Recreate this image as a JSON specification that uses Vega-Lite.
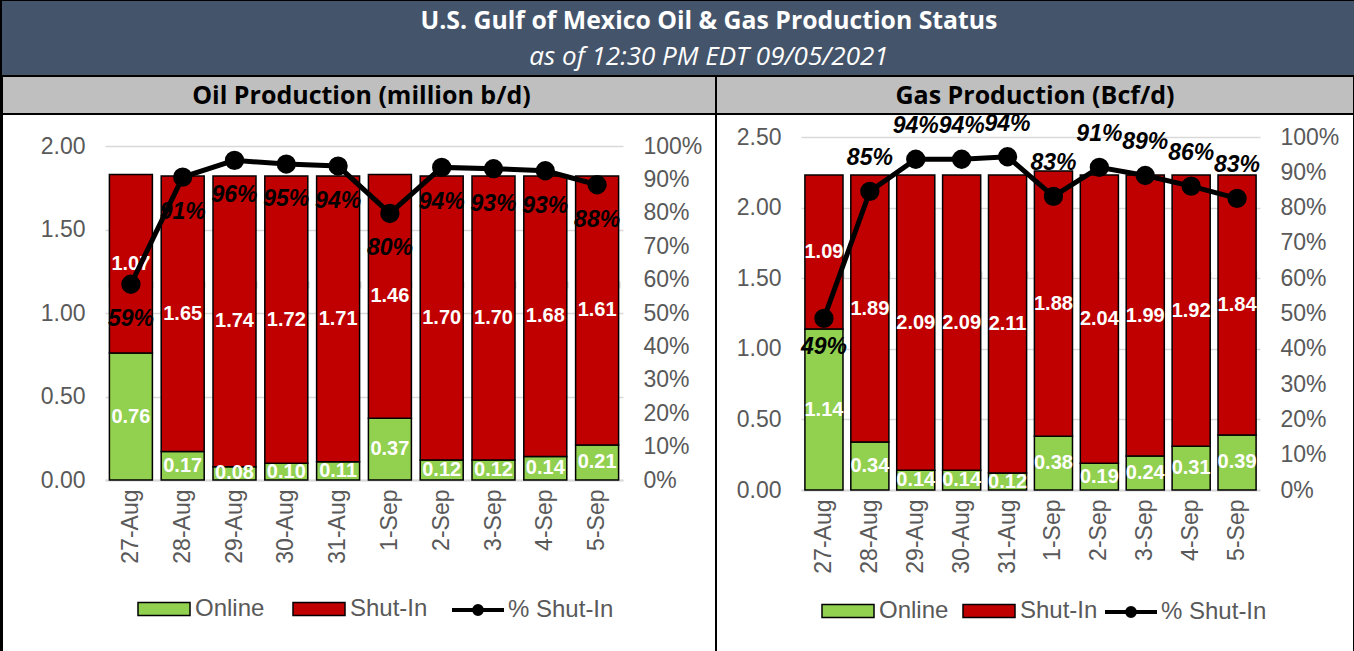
{
  "$schema": "https://vega.github.io/schema/vega-lite/v6.json",
  "padding": {"left": 1, "top": 1, "right": 0, "bottom": 0},
  "background": "#000000",
  "columns": 2,
  "spacing": 0,
  "bounds": "flush",
  "align": "each",
  "config": {"font": "Liberation Sans", "view": {"stroke": null}},
  "resolve": {"scale": {"x": "independent", "y": "independent", "color": "independent", "stroke": "independent"}, "legend": {"color": "independent", "stroke": "independent"}},
  "datasets": {
    "head": [{"title": "U.S. Gulf of Mexico Oil & Gas Production Status", "sub": "as of 12:30 PM EDT 09/05/2021", "oil": "Oil Production (million b/d)", "gas": "Gas Production (Bcf/d)"}],
    "oil": [
      {"date": "27-Aug", "Online": 0.76, "Shut-In": 1.07, "pct": 0.586},
      {"date": "28-Aug", "Online": 0.17, "Shut-In": 1.65, "pct": 0.907},
      {"date": "29-Aug", "Online": 0.08, "Shut-In": 1.74, "pct": 0.957},
      {"date": "30-Aug", "Online": 0.10, "Shut-In": 1.72, "pct": 0.946},
      {"date": "31-Aug", "Online": 0.11, "Shut-In": 1.71, "pct": 0.94},
      {"date": "1-Sep", "Online": 0.37, "Shut-In": 1.46, "pct": 0.798},
      {"date": "2-Sep", "Online": 0.12, "Shut-In": 1.70, "pct": 0.936},
      {"date": "3-Sep", "Online": 0.12, "Shut-In": 1.70, "pct": 0.932},
      {"date": "4-Sep", "Online": 0.14, "Shut-In": 1.68, "pct": 0.926},
      {"date": "5-Sep", "Online": 0.21, "Shut-In": 1.61, "pct": 0.884}
    ],
    "gas": [
      {"date": "27-Aug", "Online": 1.14, "Shut-In": 1.09, "pct": 0.486},
      {"date": "28-Aug", "Online": 0.34, "Shut-In": 1.89, "pct": 0.846},
      {"date": "29-Aug", "Online": 0.14, "Shut-In": 2.09, "pct": 0.937},
      {"date": "30-Aug", "Online": 0.14, "Shut-In": 2.09, "pct": 0.937},
      {"date": "31-Aug", "Online": 0.12, "Shut-In": 2.11, "pct": 0.944},
      {"date": "1-Sep", "Online": 0.38, "Shut-In": 1.88, "pct": 0.832},
      {"date": "2-Sep", "Online": 0.19, "Shut-In": 2.04, "pct": 0.914},
      {"date": "3-Sep", "Online": 0.24, "Shut-In": 1.99, "pct": 0.891},
      {"date": "4-Sep", "Online": 0.31, "Shut-In": 1.92, "pct": 0.861},
      {"date": "5-Sep", "Online": 0.39, "Shut-In": 1.84, "pct": 0.826}
    ]
  },
  "concat": [
    {
      "width": 714, "height": 75,
      "view": {"fill": "#44546A", "stroke": null},
      "data": {"values": [{"blank": ""}]},
      "mark": {"type": "text"},
      "encoding": {"text": {"field": "blank"}}
    },
    {
      "width": 638, "height": 75,
      "view": {"fill": "#44546A", "stroke": null},
      "data": {"name": "head"},
      "layer": [
        {"mark": {"type": "text", "font": "Open Sans", "fontWeight": "bold", "fontSize": 24.8, "color": "white", "dx": -326, "dy": -16.5, "baseline": "middle"},
         "encoding": {"text": {"field": "title"}}},
        {"mark": {"type": "text", "font": "Open Sans", "fontStyle": "italic", "fontSize": 26, "color": "white", "dx": -326, "dy": 18.5, "baseline": "middle"},
         "encoding": {"text": {"field": "sub"}}}
      ]
    },
    {"width": 714, "height": 38, "view": {"fill": "#BFBFBF", "stroke": "#000000", "strokeWidth": 2},
     "data": {"name": "head"},
     "mark": {"type": "text", "font": "Open Sans", "fontWeight": "bold", "fontSize": 25, "color": "black", "dx": 2.5, "dy": 1, "baseline": "middle"},
     "encoding": {"text": {"field": "oil"}}},
    {"width": 638, "height": 38, "view": {"fill": "#BFBFBF", "stroke": "#000000", "strokeWidth": 2},
     "data": {"name": "head"},
     "mark": {"type": "text", "font": "Open Sans", "fontWeight": "bold", "fontSize": 25, "color": "black", "dy": 1, "baseline": "middle"},
     "encoding": {"text": {"field": "gas"}}},
    {
      "width": 714, "height": 540,
      "view": {"fill": "white", "stroke": "#000000", "strokeWidth": 2},
      "data": {"name": "oil"},
      "resolve": {"scale": {"y": "independent"}, "axis": {"x": "independent"}},
      "layer": [
        {
          "transform": [{"fold": ["Online", "Shut-In"], "as": ["series", "value"]}],
          "mark": {"type": "bar", "stroke": "#000000", "strokeWidth": 1.5},
          "encoding": {
            "x": {"field": "date", "type": "nominal", "sort": null,
              "scale": {"range": [103, 621], "paddingInner": 0.17, "paddingOuter": 0.085},
              "axis": {"title": null, "labelAngle": -90, "labelFontSize": 23, "labelColor": "#595959", "domainColor": "#D9D9D9", "domainWidth": 2, "ticks": false, "labelPadding": 9, "offset": -174, "grid": false}},
            "y": {"field": "value", "type": "quantitative", "stack": "zero",
              "scale": {"domain": [0, 2], "range": [366, 32], "nice": false, "zero": true},
              "axis": {"orient": "left", "values": [0, 0.5, 1, 1.5, 2], "format": ".2f", "offset": -103, "domain": false, "ticks": false, "labelPadding": 20, "labelFontSize": 23, "labelColor": "#595959", "grid": true, "gridColor": "#D9D9D9", "gridWidth": 1.5, "title": null}},
            "color": {"field": "series", "type": "nominal",
              "scale": {"domain": ["Online", "Shut-In"], "range": ["#92D050", "#C00000"]},
              "legend": {"orient": "none", "legendX": 135, "legendY": 468, "direction": "horizontal", "title": null, "padding": 0,
                "labelFontSize": 24, "labelColor": "#595959", "symbolSize": 2704, "symbolType": "M-1,-0.25H1V0.25H-1Z",
                "symbolStrokeColor": "#000000", "symbolStrokeWidth": 1.5, "symbolOpacity": 1, "labelOffset": 4, "columnPadding": 25}},
            "order": {"field": "series", "sort": "ascending"}
          }
        },
        {
          "transform": [
            {"fold": ["Online", "Shut-In"], "as": ["series", "value"]},
            {"stack": "value", "groupby": ["date"], "sort": [{"field": "series", "order": "ascending"}], "as": ["v0", "v1"]},
            {"fold": ["v0", "v1"], "as": ["edge", "pos"]}
          ],
          "mark": {"type": "text", "color": "white", "fontWeight": "bold", "fontSize": 20, "baseline": "middle"},
          "encoding": {
            "x": {"field": "date", "type": "nominal", "sort": null,
              "scale": {"range": [103, 621], "paddingInner": 0.17, "paddingOuter": 0.085},
              "axis": {"title": null, "labels": false, "domain": false, "ticks": true, "tickColor": "#D9D9D9", "tickWidth": 2, "tickSize": 7, "tickBand": "extent", "offset": -174, "grid": false}},
            "y": {"aggregate": "mean", "field": "pos", "type": "quantitative", "scale": {"domain": [0, 2], "range": [366, 32], "nice": false}, "axis": null},
            "text": {"field": "value", "type": "quantitative", "format": ".2f"},
            "detail": {"field": "series"}
          }
        },
        {
          "mark": {"type": "line", "strokeWidth": 5, "point": {"filled": true, "size": 300, "color": "#000000"}},
          "encoding": {
            "x": {"field": "date", "type": "nominal", "sort": null, "axis": null},
            "y": {"field": "pct", "type": "quantitative", "scale": {"domain": [0, 1], "range": [366, 32], "nice": false},
              "axis": {"orient": "right", "values": [0, 0.1, 0.2, 0.3, 0.4, 0.5, 0.6, 0.7, 0.8, 0.9, 1], "format": ".0%", "offset": -93, "domain": false, "ticks": false, "labelPadding": 20, "labelFontSize": 23, "labelColor": "#595959", "grid": false, "title": null}},
            "stroke": {"datum": "% Shut-In", "scale": {"domain": ["% Shut-In"], "range": ["#000000"]},
              "legend": {"orient": "none", "legendX": 448, "legendY": 468, "title": null, "padding": 0,
                "labelFontSize": 24, "labelColor": "#595959", "symbolSize": 2704,
                "symbolType": "M-1,0H1M-0.15,0A0.15,0.15,0,1,0,0.15,0A0.15,0.15,0,1,0,-0.15,0",
                "symbolFillColor": "#000000", "symbolStrokeColor": "#000000", "symbolStrokeWidth": 4, "symbolOpacity": 1, "labelOffset": 2}}
          }
        },
        {
          "mark": {"type": "text", "fontWeight": "bold", "fontStyle": "italic", "fontSize": 23, "color": "#000000", "dy": 35, "baseline": "middle"},
          "encoding": {
            "x": {"field": "date", "type": "nominal", "sort": null, "axis": null},
            "y": {"field": "pct", "type": "quantitative", "scale": {"domain": [0, 1], "range": [366, 32], "nice": false}, "axis": null},
            "text": {"field": "pct", "type": "quantitative", "format": ".0%"}
          }
        }
      ]
    },
    {
      "width": 638, "height": 540,
      "view": {"fill": "white", "stroke": "#000000", "strokeWidth": 2},
      "data": {"name": "gas"},
      "resolve": {"scale": {"y": "independent"}, "axis": {"x": "independent"}},
      "layer": [
        {
          "transform": [{"fold": ["Online", "Shut-In"], "as": ["series", "value"]}],
          "mark": {"type": "bar", "stroke": "#000000", "strokeWidth": 1.5},
          "encoding": {
            "x": {"field": "date", "type": "nominal", "sort": null,
              "scale": {"range": [85, 544], "paddingInner": 0.17, "paddingOuter": 0.085},
              "axis": {"title": null, "labelAngle": -90, "labelFontSize": 23, "labelColor": "#595959", "domainColor": "#D9D9D9", "domainWidth": 2, "ticks": false, "labelPadding": 9, "offset": -164, "grid": false}},
            "y": {"field": "value", "type": "quantitative", "stack": "zero",
              "scale": {"domain": [0, 2.5], "range": [376, 23], "nice": false, "zero": true},
              "axis": {"orient": "left", "values": [0, 0.5, 1, 1.5, 2, 2.5], "format": ".2f", "offset": -85, "domain": false, "ticks": false, "labelPadding": 20, "labelFontSize": 23, "labelColor": "#595959", "grid": true, "gridColor": "#D9D9D9", "gridWidth": 1.5, "title": null}},
            "color": {"field": "series", "type": "nominal",
              "scale": {"domain": ["Online", "Shut-In"], "range": ["#92D050", "#C00000"]},
              "legend": {"orient": "none", "legendX": 105, "legendY": 470, "direction": "horizontal", "title": null, "padding": 0,
                "labelFontSize": 24, "labelColor": "#595959", "symbolSize": 2704, "symbolType": "M-1,-0.25H1V0.25H-1Z",
                "symbolStrokeColor": "#000000", "symbolStrokeWidth": 1.5, "symbolOpacity": 1, "labelOffset": 4, "columnPadding": 11}},
            "order": {"field": "series", "sort": "ascending"}
          }
        },
        {
          "transform": [
            {"fold": ["Online", "Shut-In"], "as": ["series", "value"]},
            {"stack": "value", "groupby": ["date"], "sort": [{"field": "series", "order": "ascending"}], "as": ["v0", "v1"]},
            {"fold": ["v0", "v1"], "as": ["edge", "pos"]}
          ],
          "mark": {"type": "text", "color": "white", "fontWeight": "bold", "fontSize": 20, "baseline": "middle"},
          "encoding": {
            "x": {"field": "date", "type": "nominal", "sort": null,
              "scale": {"range": [85, 544], "paddingInner": 0.17, "paddingOuter": 0.085},
              "axis": {"title": null, "labels": false, "domain": false, "ticks": true, "tickColor": "#D9D9D9", "tickWidth": 2, "tickSize": 7, "tickBand": "extent", "offset": -164, "grid": false}},
            "y": {"aggregate": "mean", "field": "pos", "type": "quantitative", "scale": {"domain": [0, 2.5], "range": [376, 23], "nice": false}, "axis": null},
            "text": {"field": "value", "type": "quantitative", "format": ".2f"},
            "detail": {"field": "series"}
          }
        },
        {
          "mark": {"type": "line", "strokeWidth": 5, "point": {"filled": true, "size": 300, "color": "#000000"}},
          "encoding": {
            "x": {"field": "date", "type": "nominal", "sort": null, "axis": null},
            "y": {"field": "pct", "type": "quantitative", "scale": {"domain": [0, 1], "range": [376, 23], "nice": false},
              "axis": {"orient": "right", "values": [0, 0.1, 0.2, 0.3, 0.4, 0.5, 0.6, 0.7, 0.8, 0.9, 1], "format": ".0%", "offset": -94, "domain": false, "ticks": false, "labelPadding": 20, "labelFontSize": 23, "labelColor": "#595959", "grid": false, "title": null}},
            "stroke": {"datum": "% Shut-In", "scale": {"domain": ["% Shut-In"], "range": ["#000000"]},
              "legend": {"orient": "none", "legendX": 387, "legendY": 470, "title": null, "padding": 0,
                "labelFontSize": 24, "labelColor": "#595959", "symbolSize": 2704,
                "symbolType": "M-1,0H1M-0.15,0A0.15,0.15,0,1,0,0.15,0A0.15,0.15,0,1,0,-0.15,0",
                "symbolFillColor": "#000000", "symbolStrokeColor": "#000000", "symbolStrokeWidth": 4, "symbolOpacity": 1, "labelOffset": 2}}
          }
        },
        {
          "transform": [{"filter": "datum.pct >= 0.6"}],
          "mark": {"type": "text", "fontWeight": "bold", "fontStyle": "italic", "fontSize": 23, "color": "#000000", "dy": -33, "baseline": "middle"},
          "encoding": {
            "x": {"field": "date", "type": "nominal", "sort": null, "axis": null},
            "y": {"field": "pct", "type": "quantitative", "scale": {"domain": [0, 1], "range": [376, 23], "nice": false}, "axis": null},
            "text": {"field": "pct", "type": "quantitative", "format": ".0%"}
          }
        },
        {
          "transform": [{"filter": "datum.pct < 0.6"}],
          "mark": {"type": "text", "fontWeight": "bold", "fontStyle": "italic", "fontSize": 23, "color": "#000000", "dy": 29, "baseline": "middle"},
          "encoding": {
            "x": {"field": "date", "type": "nominal", "sort": null, "axis": null},
            "y": {"field": "pct", "type": "quantitative", "scale": {"domain": [0, 1], "range": [376, 23], "nice": false}, "axis": null},
            "text": {"field": "pct", "type": "quantitative", "format": ".0%"}
          }
        }
      ]
    }
  ]
}
